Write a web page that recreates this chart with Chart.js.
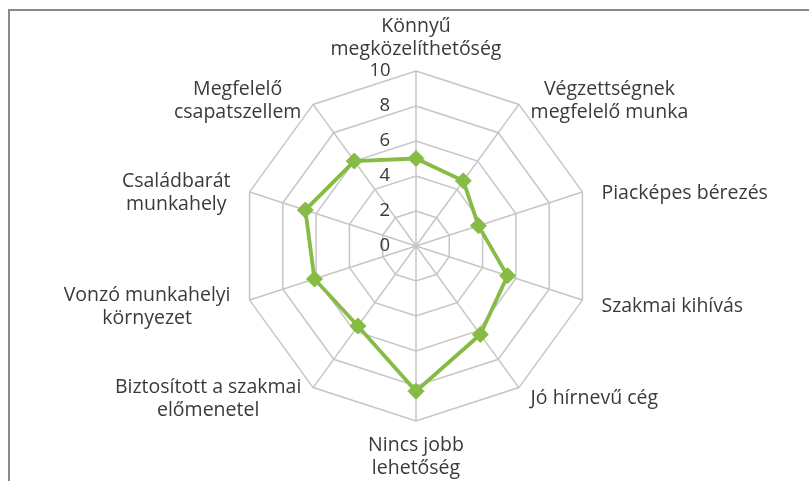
<!DOCTYPE html>
<html>
<head>
<meta charset="utf-8">
<script src="https://cdn.jsdelivr.net/npm/chart.js@4.4.0/dist/chart.umd.min.js"></script>
<style>
  html, body { margin: 0; padding: 0; background: #ffffff; }
  #wrap { position: relative; width: 809px; height: 481px; overflow: hidden; }
  #frame { position: absolute; left: 8px; top: 9px; right: -5px; bottom: -5px;
           border-top: 2px solid #8a8a8a; border-left: 2px solid #8a8a8a; pointer-events: none; }
  canvas { position: absolute; left: 0; top: 0; }
</style>
</head>
<body>
<div id="wrap">
  <canvas id="c" width="809" height="481"></canvas>
  <div id="frame"></div>
</div>
<script>
const categories = [
  ["Könnyű", "megközelíthetőség"],
  ["Végzettségnek", "megfelelő munka"],
  ["Piacképes bérezés"],
  ["Szakmai kihívás"],
  ["Jó hírnevű cég"],
  ["Nincs jobb", "lehetőség"],
  ["Biztosított a szakmai", "előmenetel"],
  ["Vonzó munkahelyi", "környezet"],
  ["Családbarát", "munkahely"],
  ["Megfelelő", "csapatszellem"]
];
const values = [5.0, 4.6, 3.75, 5.5, 6.25, 8.3, 5.65, 6.1, 6.65, 6.0];
const tickValues = [0, 2, 4, 6, 8, 10];

const FONT = "'Open Sans', Lato, sans-serif";
const green = '#86bb45';
const grid = '#c6c6c6';
const textColor = '#3a3a3a';
const LABEL_SIZE = 19.5;
const LABEL_LH = 1.18;

// plot geometry (layout only)
const GEOM = { cx: 416, cy: 246, r: 175 };

const labelPlacer = {
  id: 'labelPlacer',
  beforeDraw(chart) {
    const s = chart.scales.r;
    const items = s._pointLabelItems;
    if (!items) return;
    const ctx = chart.ctx;
    ctx.save();
    ctx.font = LABEL_SIZE + 'px ' + FONT;
    const lh = LABEL_SIZE * LABEL_LH;
    const n = s._pointLabels.length;
    for (let i = 0; i < n; i++) {
      const lines = [].concat(s._pointLabels[i]);
      const w = Math.max(...lines.map(t => ctx.measureText(t).width));
      const h = lines.length * lh;
      const a = (i / n) * 2 * Math.PI; // clockwise from top
      const sa = Math.sin(a), ca = Math.cos(a);
      const R = s.drawingArea;
      let cxL, top;
      if (Math.abs(sa) < 1e-6) {
        cxL = s.xCenter;
        if (ca > 0) top = s.yCenter - R - 10 - h;
        else top = s.yCenter + R + 13;
      } else {
        const edgeX = s.xCenter + (R + 20) * sa;
        cxL = sa > 0 ? edgeX + w / 2 : edgeX - w / 2;
        const midY = s.yCenter - (R + 9) * ca + 4;
        top = midY - h / 2;
      }
      const it = items[i];
      it.x = cxL; it.y = top; it.textAlign = 'center';
      it.left = cxL - w / 2; it.right = cxL + w / 2; it.top = top; it.bottom = top + h;
      it.visible = true;
    }
    ctx.restore();
  }
};

new Chart(document.getElementById('c'), {
  type: 'radar',
  data: {
    labels: categories,
    datasets: [{
      data: values,
      borderColor: green,
      backgroundColor: green,
      borderWidth: 3.8,
      fill: false,
      pointStyle: 'rectRot',
      pointRadius: 8,
      pointBackgroundColor: green,
      pointBorderColor: green,
      pointBorderWidth: 1,
      tension: 0
    }]
  },
  plugins: [labelPlacer],
  options: {
    responsive: false,
    animation: false,
    devicePixelRatio: 1,
    plugins: { legend: { display: false }, tooltip: { enabled: false } },
    scales: {
      r: {
        min: 0,
        max: 10,
        afterBuildTicks: (scale) => {
          // Chart.js skips the first tick when min >= 0, so keep a leading copy of 0
          scale.ticks = [{ value: tickValues[0] }].concat(tickValues.map(v => ({ value: v })));
        },
        afterFit: (scale) => {
          scale.xCenter = GEOM.cx;
          scale.yCenter = GEOM.cy;
          scale.drawingArea = GEOM.r;
        },
        ticks: {
          showLabelBackdrop: false,
          color: textColor,
          font: { family: FONT, size: 18.5 },
          callback: (v) => String(v) + ' '.repeat(String(v).length > 1 ? 15 : 13)
        },
        grid: { color: grid, lineWidth: 1.5 },
        angleLines: { color: grid, lineWidth: 1.5 },
        pointLabels: {
          color: textColor,
          font: { family: FONT, size: LABEL_SIZE, lineHeight: LABEL_LH },
          padding: 6
        }
      }
    }
  }
});
</script>
</body>
</html>
